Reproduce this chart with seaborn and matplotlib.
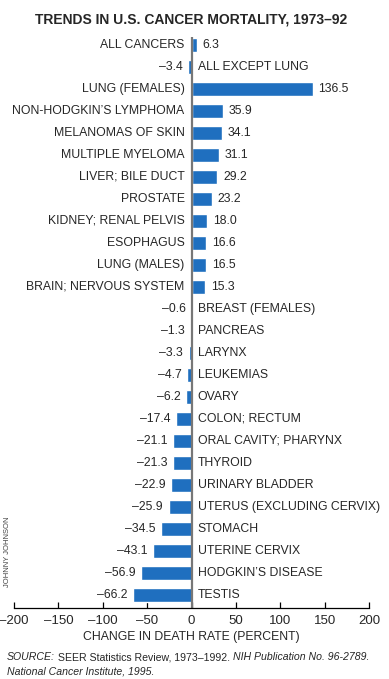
import matplotlib
matplotlib.use("Agg")
import matplotlib.pyplot as plt
import pandas as pd
import seaborn as sns

# datos
sites = ["ALL CANCERS", "ALL EXCEPT LUNG", "LUNG (FEMALES)", "NON-HODGKIN’S LYMPHOMA",
         "MELANOMAS OF SKIN", "MULTIPLE MYELOMA", "LIVER; BILE DUCT", "PROSTATE",
         "KIDNEY; RENAL PELVIS", "ESOPHAGUS", "LUNG (MALES)", "BRAIN; NERVOUS SYSTEM",
         "BREAST (FEMALES)", "PANCREAS", "LARYNX", "LEUKEMIAS", "OVARY", "COLON; RECTUM",
         "ORAL CAVITY; PHARYNX", "THYROID", "URINARY BLADDER", "UTERUS (EXCLUDING CERVIX)",
         "STOMACH", "UTERINE CERVIX", "HODGKIN’S DISEASE", "TESTIS"]
change = [6.3, -3.4, 136.5, 35.9, 34.1, 31.1, 29.2, 23.2, 18.0, 16.6, 16.5, 15.3,
          -0.6, -1.3, -3.3, -4.7, -6.2, -17.4, -21.1, -21.3, -22.9, -25.9, -34.5,
          -43.1, -56.9, -66.2]
xticks = [-200, -150, -100, -50, 0, 50, 100, 150, 200]

sns.set_theme(style="white")
plt.rcParams['font.family'] = ['Liberation Sans', 'DejaVu Sans']

df = pd.DataFrame({"site": sites, "change": change})

fig = plt.figure(figsize=(3.89, 6.79), dpi=100)
ax = fig.add_axes([0.036, 0.1046, 0.9126, 0.8409])

sns.barplot(ax=ax, data=df, x="change", y="site", orient="h",
            color="#1f6fbf", saturation=1, width=0.6)

ax.set_xlim(-200, 200)
ax.set_ylim(len(sites) - 1 + 0.59, -0.36)
ax.axvline(0, color="#777777", lw=1.6, zorder=1)

# etiquetas de nombre y valor
fs = 8.8
for i, (s, v) in enumerate(zip(sites, change)):
    txt = f"{abs(v):.1f}" if v >= 0 else f"–{abs(v):.1f}"
    if v >= 0:
        ax.annotate(s, (0, i), xytext=(-5, 0), textcoords="offset points",
                    ha="right", va="center", fontsize=fs)
        ax.annotate(txt, (v, i), xytext=(4, 0), textcoords="offset points",
                    ha="left", va="center", fontsize=fs)
    else:
        ax.annotate(s, (0, i), xytext=(4.5, 0), textcoords="offset points",
                    ha="left", va="center", fontsize=fs)
        ax.annotate(txt, (v, i), xytext=(-4, 0), textcoords="offset points",
                    ha="right", va="center", fontsize=fs)

ax.set_yticks([])
ax.set_ylabel("")
ax.set_xticks(xticks)
ax.set_xticklabels([str(t).replace("-", "–") for t in xticks], fontsize=9.5)
ax.tick_params(axis="x", which="major", direction="in", length=4, width=0.9,
               color="black", bottom=True, pad=5)
ax.set_xlabel("CHANGE IN DEATH RATE (PERCENT)", fontsize=8.8, labelpad=3)
for sp in ["top", "right", "left"]:
    ax.spines[sp].set_visible(False)
ax.spines["bottom"].set_color("black")
ax.spines["bottom"].set_linewidth(0.9)

fig.text(0.49, 0.971, "TRENDS IN U.S. CANCER MORTALITY, 1973–92",
         ha="center", va="center", fontsize=10, fontweight="bold")

fig.text(0.018, 0.187, "JOHNNY JOHNSON", rotation=90, fontsize=5.5,
         color="#444444", ha="center", va="center")

# nota de fuente con estilos mezclados
sfs = 7.6
t1 = fig.text(0.018, 0.025, "SOURCE:", fontsize=sfs, style="italic", va="bottom")
t2 = ax.annotate(" SEER Statistics Review, 1973–1992. ", xy=(1, 0), xycoords=t1,
                 fontsize=sfs, va="bottom", annotation_clip=False)
t3 = ax.annotate("NIH Publication No. 96-2789.", xy=(1, 0), xycoords=t2,
                 fontsize=sfs, style="italic", va="bottom", annotation_clip=False)
fig.text(0.018, 0.004, "National Cancer Institute, 1995.", fontsize=sfs,
         style="italic", va="bottom")

fig.savefig("out.png", dpi=100)
